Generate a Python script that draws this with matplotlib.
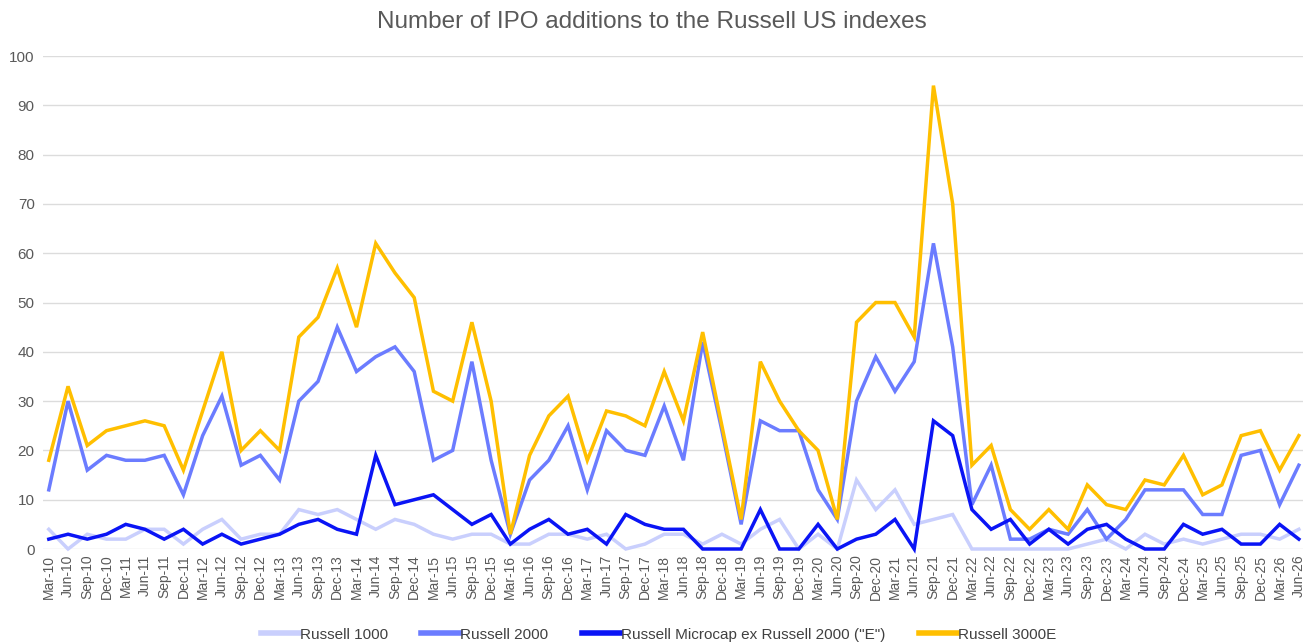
import numpy as np
import matplotlib
matplotlib.use("Agg")
import matplotlib.pyplot as plt

plt.rcParams['font.family'] = ['Liberation Sans', 'DejaVu Sans']

# quarters Mar-10 .. Jun-26
months = ['Mar', 'Jun', 'Sep', 'Dec']
quarters = [m + '-' + str(y) for y in range(10, 27) for m in months][:66]

russell_1000 = [4, 0, 3, 2, 2, 4, 4, 1, 4, 6,
                2, 3, 3, 8, 7, 8, 6, 4, 6, 5,
                3, 2, 3, 3, 1, 1, 3, 3, 2, 3,
                0, 1, 3, 3, 1, 3, 1, 4, 6, 0,
                3, 0, 14, 8, 12, 5, 6, 7, 0, 0,
                0, 0, 0, 0, 1, 2, 0, 3, 1, 2,
                1, 2, 3, 3, 2, 4]
russell_2000 = [12, 30, 16, 19, 18, 18, 19, 11, 23, 31,
                17, 19, 14, 30, 34, 45, 36, 39, 41, 36,
                18, 20, 38, 18, 3, 14, 18, 25, 12, 24,
                20, 19, 29, 18, 42, 24, 5, 26, 24, 24,
                12, 6, 30, 39, 32, 38, 62, 41, 9, 17,
                2, 2, 4, 3, 8, 2, 6, 12, 12, 12,
                7, 7, 19, 20, 9, 17]
microcap = [2, 3, 2, 3, 5, 4, 2, 4, 1, 3,
            1, 2, 3, 5, 6, 4, 3, 19, 9, 10,
            11, 8, 5, 7, 1, 4, 6, 3, 4, 1,
            7, 5, 4, 4, 0, 0, 0, 8, 0, 0,
            5, 0, 2, 3, 6, 0, 26, 23, 8, 4,
            6, 1, 4, 1, 4, 5, 2, 0, 0, 5,
            3, 4, 1, 1, 5, 2]
russell_3000e = [18, 33, 21, 24, 25, 26, 25, 16, 28, 40,
                 20, 24, 20, 43, 47, 57, 45, 62, 56, 51,
                 32, 30, 46, 30, 3, 19, 27, 31, 18, 28,
                 27, 25, 36, 26, 44, 25, 6, 38, 30, 24,
                 20, 6, 46, 50, 50, 43, 94, 70, 17, 21,
                 8, 4, 8, 4, 13, 9, 8, 14, 13, 19,
                 11, 13, 23, 24, 16, 23]

series_names = ['Russell 1000', 'Russell 2000',
                'Russell Microcap ex Russell 2000 ("E")', 'Russell 3000E']
colors = ['#c9cffd', '#6b7cff', '#0a14f5', '#ffbf00']

x = np.arange(len(quarters))

fig = plt.figure(figsize=(13.04, 6.44), dpi=100)
ax = fig.add_axes([0.033, 0.1475, 0.966, 0.7655])

for data, name, c in zip([russell_1000, russell_2000, microcap, russell_3000e],
                         series_names, colors):
    ax.plot(x, data, color=c, lw=2.5, label=name, clip_on=False,
            solid_joinstyle='miter')

ax.set_ylim(0, 100)
ax.set_xlim(-0.3, 65.2)
ax.set_yticks(range(0, 101, 10))
ax.set_xticks(x)
ax.set_xticklabels(quarters, rotation=90, fontsize=10, color='#595959')
ax.tick_params(axis='y', labelsize=11, labelcolor='#595959', length=0, pad=6)
ax.tick_params(axis='x', length=0, pad=4)
ax.grid(axis='y', color='#dcdcdc', lw=1)
ax.set_axisbelow(True)
for s in ax.spines.values():
    s.set_visible(False)

fig.suptitle('Number of IPO additions to the Russell US indexes',
             y=0.983, fontsize=17.5, color='#595959')

leg = fig.legend(loc='lower center', bbox_to_anchor=(0.505, -0.018), ncol=4,
                 frameon=False, fontsize=11, handlelength=2.5, handletextpad=0.05,
                 columnspacing=2.2, labelcolor='#404040')
for h in leg.get_lines():
    h.set_linewidth(4)

fig.savefig('out.png', dpi=100)
